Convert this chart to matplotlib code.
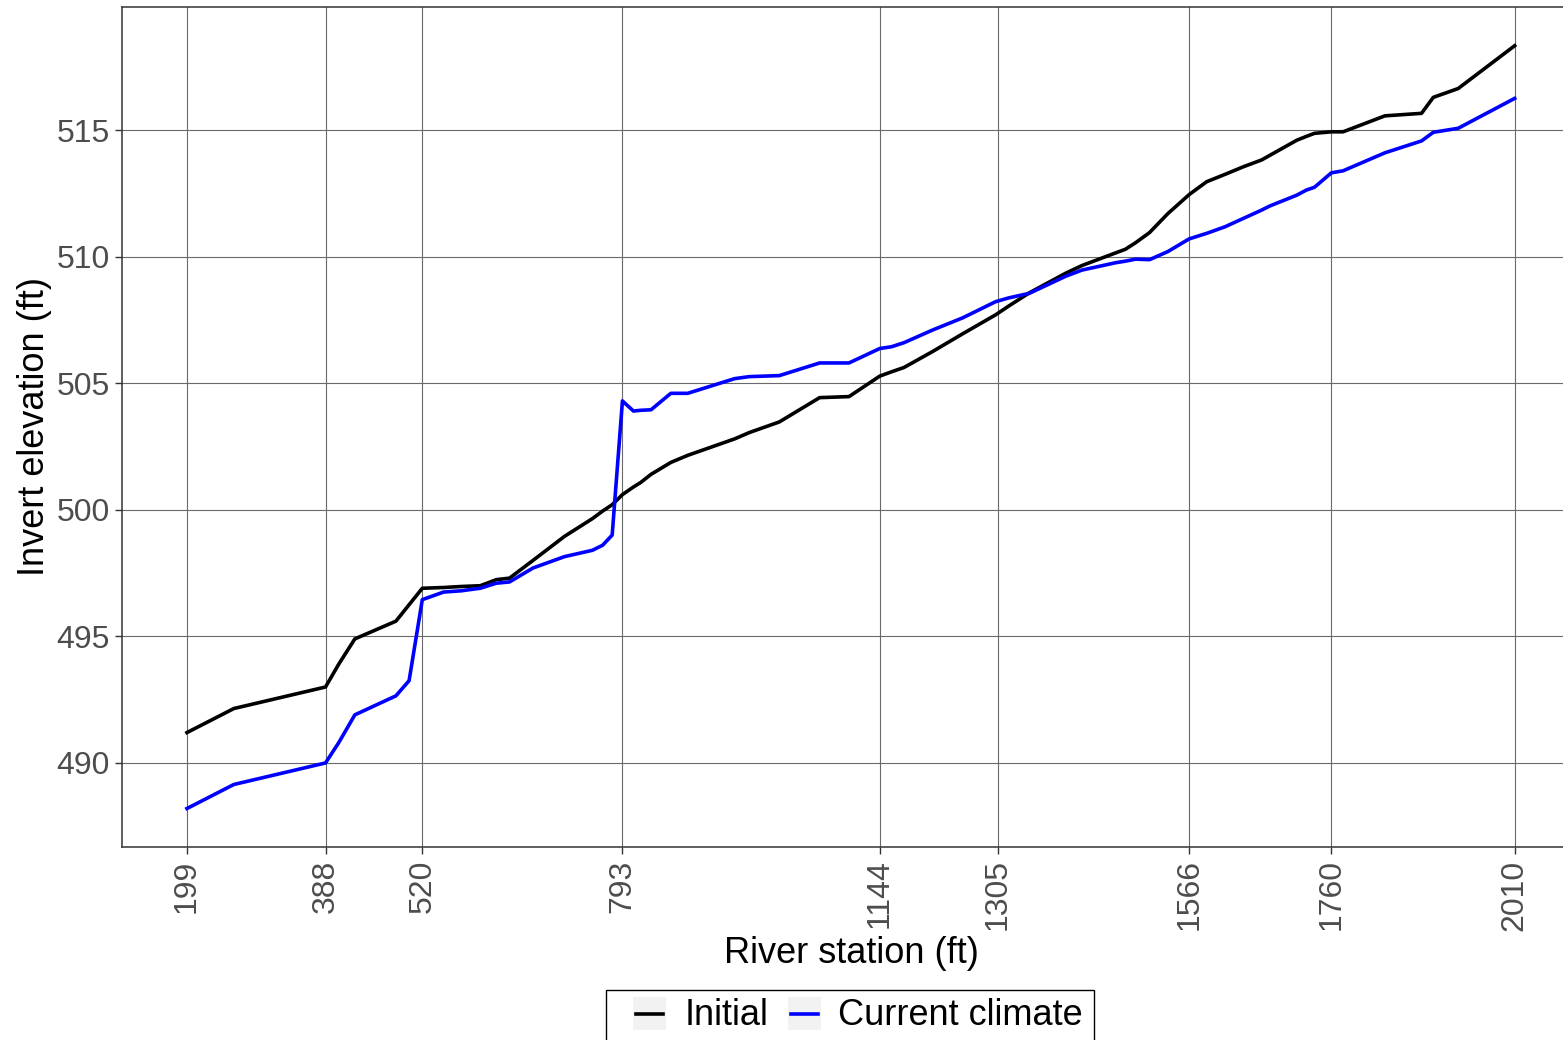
import matplotlib
matplotlib.use("Agg")
import matplotlib.pyplot as plt
from matplotlib.lines import Line2D
from matplotlib.patches import Rectangle

# ---- data ----
station = [199, 263, 388, 406, 428, 484, 502, 520, 549, 573, 599, 621, 639, 671,
           714, 752, 766, 779, 793, 808, 818, 832, 859, 882, 946, 966, 1007, 1062,
           1102, 1144, 1160, 1177, 1216, 1257, 1302, 1320, 1348, 1398, 1420, 1466,
           1479, 1493, 1512, 1537, 1566, 1590, 1615, 1640, 1665, 1676, 1713, 1726,
           1737, 1760, 1776, 1833, 1883, 1899, 1933, 2010]
initial = [491.2, 492.15, 493.0, 493.9, 494.9, 495.6, 496.25, 496.9, 496.93, 496.97,
           497.0, 497.24, 497.3, 498.0, 498.95, 499.65, 499.95, 500.2, 500.6, 500.9,
           501.08, 501.4, 501.87, 502.15, 502.8, 503.05, 503.47, 504.43, 504.47,
           505.28, 505.45, 505.62, 506.25, 506.95, 507.7, 508.05, 508.57, 509.35,
           509.65, 510.15, 510.29, 510.55, 510.95, 511.7, 512.45, 512.96, 513.25,
           513.55, 513.82, 514.0, 514.6, 514.75, 514.87, 514.93, 514.93, 515.56,
           515.66, 516.29, 516.64, 518.33]
current = [488.2, 489.15, 490.0, 490.8, 491.9, 492.65, 493.25, 496.45, 496.75, 496.8,
           496.9, 497.1, 497.15, 497.7, 498.15, 498.4, 498.6, 499.0, 504.3, 503.9,
           503.93, 503.95, 504.6, 504.6, 505.18, 505.26, 505.3, 505.8, 505.8, 506.37,
           506.44, 506.6, 507.1, 507.58, 508.22, 508.37, 508.55, 509.23, 509.47,
           509.76, 509.82, 509.9, 509.88, 510.2, 510.7, 510.92, 511.18, 511.51,
           511.84, 512.0, 512.43, 512.63, 512.74, 513.31, 513.39, 514.1, 514.57,
           514.91, 515.07, 516.25]
x_breaks = [199, 388, 520, 793, 1144, 1305, 1566, 1760, 2010]
y_breaks = [490, 495, 500, 505, 510, 515]
series_names = ["Initial", "Current climate"]
series_colors = ["black", "#0000FF"]

plt.rcParams['font.family'] = ['Liberation Sans', 'DejaVu Sans']

W, H = 1563, 1040
fig = plt.figure(figsize=(W / 100, H / 100), dpi=100)


def fx(px):
    return px / W


def fy(py):
    return 1 - py / H


left_px, right_px, top_px, bottom_px = 122, 1581, 7, 847
ax = fig.add_axes([fx(left_px), fy(bottom_px),
                   (right_px - left_px) / W, (bottom_px - top_px) / H])

ax.plot(station, initial, color=series_colors[0], lw=2.6, solid_joinstyle='round', zorder=3)
ax.plot(station, current, color=series_colors[1], lw=2.6, solid_joinstyle='round', zorder=3)

ax.set_xlim(110.4, 2100.5)
ax.set_ylim(486.68, 519.86)
ax.set_xticks(x_breaks)
ax.set_xticklabels([str(v) for v in x_breaks], rotation=90, va='top', ha='center')
ax.set_yticks(y_breaks)
ax.grid(True, color='#6a6a6a', lw=0.8, zorder=0)
ax.set_axisbelow(True)
for s in ax.spines.values():
    s.set_color('#333333')
    s.set_linewidth(1.1)
ax.tick_params(axis='both', colors='#333333', length=5, width=1.0,
               labelsize=23, labelcolor='#4D4D4D', pad=4)

ax.set_xlabel("River station (ft)", fontsize=26, color='black', labelpad=4)
ax.set_ylabel("Invert elevation (ft)", fontsize=26, color='black', labelpad=3)

# ---- legend (ggplot style, bottom, boxed, grey keys) ----
fig.add_artist(Rectangle((fx(606), fy(1060)), (1094 - 606) / W, (1060 - 990) / H,
                         transform=fig.transFigure, facecolor='white',
                         edgecolor='black', lw=1.0, zorder=5))
key_lefts = [633, 788]
text_lefts = [685, 838]
for kl, tl, name, col in zip(key_lefts, text_lefts, series_names, series_colors):
    fig.add_artist(Rectangle((fx(kl), fy(1030)), 33 / W, 33 / H,
                             transform=fig.transFigure, facecolor='#F2F2F2',
                             edgecolor='none', zorder=6))
    fig.add_artist(Line2D([fx(kl + 3), fx(kl + 30)], [fy(1013.5), fy(1013.5)],
                          transform=fig.transFigure, color=col, lw=2.6, zorder=7))
    fig.text(fx(tl), fy(1025), name, fontsize=26, color='black',
             ha='left', va='baseline', zorder=7)

fig.savefig("out.png", dpi=100)
